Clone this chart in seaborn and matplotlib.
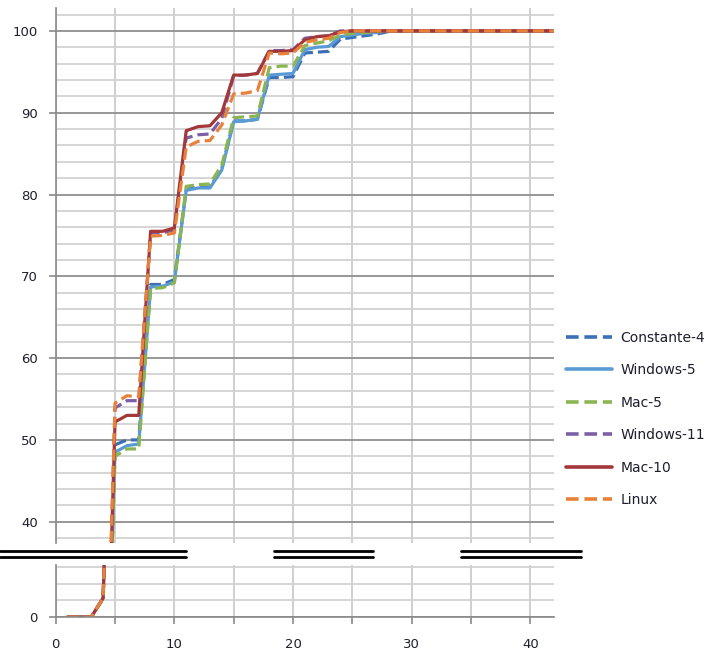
import numpy as np
import pandas as pd
import matplotlib
matplotlib.use("Agg")
import matplotlib.pyplot as plt
from matplotlib.lines import Line2D
import seaborn as sns

# --- Datos ---
x = list(range(1, 43))
tail = [100.0] * 14  # x = 29..42

constante4 = [0, 0, 0, 2.3, 49.4, 50.0, 50.0, 69.0, 69.0, 69.6, 80.6, 80.9, 80.9, 83.2,
              89.0, 89.0, 89.2, 94.3, 94.3, 94.4, 97.3, 97.4, 97.5, 99.0, 99.2, 99.4, 99.6, 99.9] + tail
windows5 = [0, 0, 0, 2.3, 48.5, 49.3, 49.5, 68.7, 68.8, 69.3, 80.5, 80.8, 80.8, 83.0,
            88.9, 89.0, 89.2, 94.6, 94.7, 94.8, 97.7, 98.0, 98.1, 99.3, 99.5, 99.7, 99.8, 100] + tail
mac5 = [0, 0, 0, 2.3, 48.0, 48.9, 48.9, 68.5, 68.6, 69.2, 81.0, 81.2, 81.3, 83.6,
        89.4, 89.5, 89.6, 95.5, 95.7, 95.7, 98.2, 98.5, 98.8, 99.5, 99.7, 99.8, 99.9, 100] + tail
windows11 = [0, 0, 0, 2.3, 53.9, 54.8, 54.8, 75.3, 75.3, 75.7, 86.9, 87.3, 87.4, 89.3,
             94.5, 94.6, 94.8, 97.6, 97.6, 97.7, 99.1, 99.3, 99.4, 100, 100, 100, 100, 100] + tail
mac10 = [0, 0, 0, 2.3, 52.2, 53.0, 53.0, 75.5, 75.5, 75.9, 87.8, 88.3, 88.4, 90.0,
         94.6, 94.6, 94.8, 97.5, 97.5, 97.6, 98.9, 99.3, 99.4, 99.9, 100, 100, 100, 100] + tail
linux = [0, 0, 0, 2.3, 54.5, 55.4, 55.3, 74.9, 75.0, 75.3, 85.8, 86.5, 86.6, 88.5,
         92.3, 92.4, 92.7, 97.3, 97.2, 97.3, 98.6, 98.9, 99.1, 99.8, 100, 100, 100, 100] + tail

series = {
    'Constante-4': constante4,
    'Windows-5': windows5,
    'Mac-5': mac5,
    'Windows-11': windows11,
    'Mac-10': mac10,
    'Linux': linux,
}
orden = list(series.keys())
colores = {'Constante-4': '#3b6fb6', 'Windows-5': '#5b9bd5', 'Mac-5': '#8bb552',
           'Windows-11': '#7b5fa8', 'Mac-10': '#a3373a', 'Linux': '#e8813a'}
guiones = {'Constante-4': (3.5, 1.6), 'Windows-5': '', 'Mac-5': (3.5, 1.6),
           'Windows-11': (3.5, 1.6), 'Mac-10': '', 'Linux': (3.5, 1.6)}

df = pd.DataFrame([(xi, nombre, v) for nombre, vals in series.items() for xi, v in zip(x, vals)],
                  columns=['x', 'serie', 'valor'])

# --- Figura ---
sns.set_theme(style='white')
plt.rcParams['font.family'] = ['DejaVu Sans']

fig = plt.figure(figsize=(7.12, 6.55), dpi=100)
W, H = 712, 655
left, right = 55.7, 554
ax_top = fig.add_axes([left / W, (H - 543) / H, (right - left) / W, (543 - 8) / H])
ax_bot = fig.add_axes([left / W, (H - 617) / H, (right - left) / W, (617 - 565) / H])

for ax in (ax_top, ax_bot):
    sns.lineplot(data=df, x='x', y='valor', hue='serie', style='serie', hue_order=orden,
                 style_order=orden, palette=colores, dashes=guiones, linewidth=2.3,
                 legend=(ax is ax_top), ax=ax, clip_on=True)
    ax.set_xlim(0, 42)
    ax.set_xlabel('')
    ax.set_ylabel('')
    ax.set_xticks(range(0, 41, 10))
    ax.set_xticks(range(5, 41, 10), minor=True)
    ax.grid(which='both', axis='x', color='#cccccc', linewidth=1.3)
    ax.grid(which='major', axis='y', color='#8f8f8f', linewidth=1.3)
    ax.grid(which='minor', axis='y', color='#d2d2d2', linewidth=1.3)
    ax.set_axisbelow(True)
    for s in ('top', 'right'):
        ax.spines[s].set_visible(False)
    ax.spines['left'].set_color('#8a8a8a')
    ax.spines['left'].set_linewidth(1.2)
    ax.tick_params(axis='y', which='major', direction='out', length=5, width=1.2,
                   color='#8a8a8a', labelsize=9.5, labelcolor='#1e1e2e', pad=8, left=True)
    ax.tick_params(axis='y', which='minor', length=0)

# Eje superior
ax_top.set_ylim(37.4, 102.8)
ax_top.set_yticks(range(40, 101, 10))
ax_top.set_yticks(range(38, 103, 2), minor=True)
ax_top.spines['bottom'].set_visible(False)
ax_top.tick_params(axis='x', which='both', length=0, labelbottom=False)

# Eje inferior
ax_bot.set_ylim(0, 6.3)
ax_bot.set_yticks([0])
ax_bot.set_yticks([2, 4, 6], minor=True)
ax_bot.spines['bottom'].set_color('#8a8a8a')
ax_bot.spines['bottom'].set_linewidth(1.2)
ax_bot.tick_params(axis='x', which='both', direction='out', length=5, width=1.2,
                   color='#8a8a8a', labelsize=9.5, labelcolor='#1e1e2e', pad=10, bottom=True)

# Marcas de corte del eje
for y0 in (550.5, 557.0):
    for x0, x1 in ((0, 186), (274, 373), (461, 581)):
        fig.add_artist(Line2D([x0 / W, x1 / W], [1 - y0 / H, 1 - y0 / H],
                              color='black', linewidth=2.0, transform=fig.transFigure))

# Leyenda
handles, labels = ax_top.get_legend_handles_labels()
ax_top.get_legend().remove()
for h in handles:
    h.set_linewidth(2.6)
fig.legend(handles, labels, loc='center left', bbox_to_anchor=(566 / W, 1 - 419 / H),
           frameon=False, fontsize=10, handlelength=3.3, handletextpad=0.6,
           labelspacing=1.33, borderpad=0, borderaxespad=0, labelcolor='#1e1e2e')

fig.savefig('out.png', dpi=100)
